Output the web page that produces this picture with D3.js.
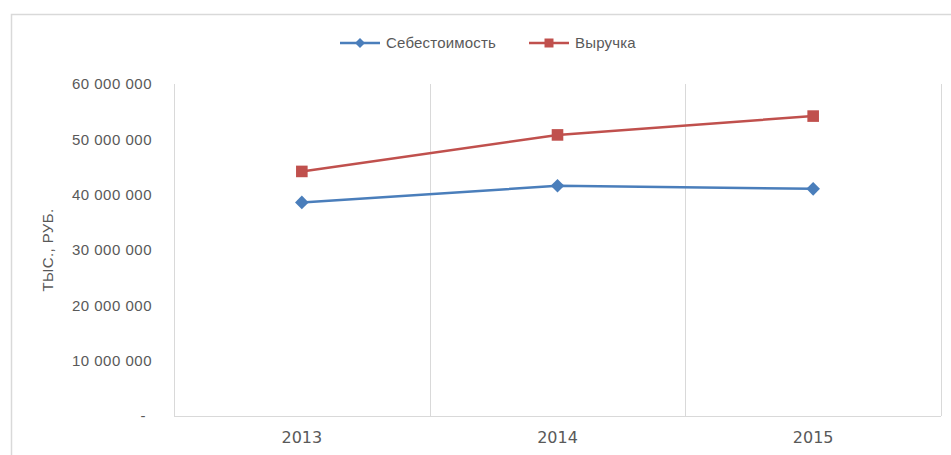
<!DOCTYPE html>
<html lang="ru">
<head>
<meta charset="UTF-8">
<title>Себестоимость и выручка</title>
<style>
  body { margin: 0; background: #fff; }
  svg text { font-family: "Liberation Sans", Arial, sans-serif; fill: #595959; }
</style>
</head>
<body>
<svg id="chart" width="951" height="455"></svg>
<script src="https://cdnjs.cloudflare.com/ajax/libs/d3/7.8.5/d3.min.js"></script>
<script>
// data
const years = ['2013', '2014', '2015'];
const cost = [38600000, 41600000, 41050000];     // Себестоимость
const revenue = [44200000, 50800000, 54200000];  // Выручка
const yTicks = [0, 10000000, 20000000, 30000000, 40000000, 50000000, 60000000];

const series = [
  { name: 'Себестоимость', values: cost, color: '#4a7ebb', shape: 'diamond' },
  { name: 'Выручка', values: revenue, color: '#c0504d', shape: 'square' }
];

const svg = d3.select('#chart');
const margin = { left: 174, right: 10, top: 84, bottom: 39 };
const width = 951 - margin.left - margin.right;
const height = 455 - margin.top - margin.bottom;

// marker shapes (excel style: square and rotated square)
function marker(shape, r) {
  if (shape === 'diamond') return `M0,${-r}L${r},0L0,${r}L${-r},0Z`;
  return `M${-r},${-r}H${r}V${r}H${-r}Z`;
}

// chart frame
svg.append('path')
  .attr('d', 'M11.5,455 V14.5 H951')
  .attr('fill', 'none')
  .attr('stroke', '#d9d9d9')
  .attr('stroke-width', 1.5);

const g = svg.append('g')
  .attr('transform', `translate(${margin.left},${margin.top})`);

const x = d3.scaleBand().domain(years).range([0, width]);
const y = d3.scaleLinear().domain([0, 60000000]).range([height, 0]);

// plot area border + category gridlines
const bounds = [0, ...years.map(d => x(d) + x.bandwidth())];
g.selectAll('.vgrid')
  .data(bounds)
  .enter().append('line')
  .attr('x1', d => Math.round(d) + 0.5)
  .attr('x2', d => Math.round(d) + 0.5)
  .attr('y1', 0)
  .attr('y2', height)
  .attr('stroke', '#d9d9d9');

g.append('line')
  .attr('x1', 0).attr('x2', width)
  .attr('y1', height + 0.5).attr('y2', height + 0.5)
  .attr('stroke', '#d9d9d9');

// y axis labels
const fmt = v => v === 0 ? '-' : d3.format(',')(v).replace(/,/g, ' ');
const yAxis = d3.axisLeft(y).tickValues(yTicks).tickFormat(fmt).tickSize(0).tickPadding(22);
const ya = g.append('g').call(yAxis);
ya.select('.domain').remove();
ya.selectAll('text')
  .style('font-size', '15px')
  .style('letter-spacing', '0.5px')
  .style('fill', '#595959')
  .attr('x', d => d === 0 ? -28 : -22);

// x axis labels
const xAxis = d3.axisBottom(x).tickSize(0).tickPadding(16);
const xa = g.append('g').attr('transform', `translate(0,${height})`).call(xAxis);
xa.select('.domain').remove();
xa.selectAll('text')
  .style('font-size', '16px')
  .style('font-family', '"DejaVu Sans", sans-serif')
  .style('fill', '#595959');

// y axis title
svg.append('text')
  .attr('transform', 'translate(53,250) rotate(-90)')
  .attr('text-anchor', 'middle')
  .style('font-size', '15px')
  .style('letter-spacing', '0.4px')
  .text('ТЫС., РУБ.');

// lines
const line = d3.line()
  .x((d, i) => x(years[i]) + x.bandwidth() / 2)
  .y(d => y(d));

series.forEach(s => {
  g.append('path')
    .datum(s.values)
    .attr('fill', 'none')
    .attr('stroke', s.color)
    .attr('stroke-width', 2.5)
    .attr('stroke-linejoin', 'round')
    .attr('d', line);

  g.selectAll(null)
    .data(s.values)
    .enter().append('path')
    .attr('transform', (d, i) => `translate(${x(years[i]) + x.bandwidth() / 2},${y(d)})`)
    .attr('d', marker(s.shape, s.shape === 'diamond' ? 6.8 : 5.8))
    .attr('fill', s.color);
});

// legend
const legendItems = [
  { x: 340, s: series[0] },
  { x: 529, s: series[1] }
];
const leg = svg.append('g');
legendItems.forEach(it => {
  const lg = leg.append('g').attr('transform', `translate(${it.x},43)`);
  lg.append('line')
    .attr('x1', 0).attr('x2', 40)
    .attr('stroke', it.s.color)
    .attr('stroke-width', 2.5);
  lg.append('path')
    .attr('transform', 'translate(20,0)')
    .attr('d', marker(it.s.shape, it.s.shape === 'diamond' ? 5 : 4.5))
    .attr('fill', it.s.color);
  lg.append('text')
    .attr('x', 46)
    .attr('dy', '0.35em')
    .style('font-size', '15px')
    .style('letter-spacing', '0.2px')
    .text(it.s.name);
});
</script>
</body>
</html>
